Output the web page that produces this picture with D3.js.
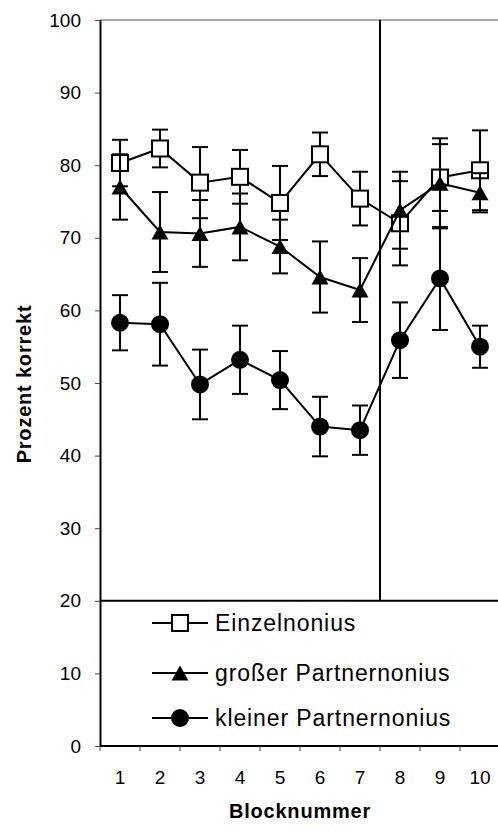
<!DOCTYPE html>
<html>
<head>
<meta charset="utf-8">
<script src="https://cdn.jsdelivr.net/npm/d3@7"></script>
<style>
  body { margin: 0; background: #fff; }
  svg { display: block; font-family: 'Liberation Sans', Arial, sans-serif; }
</style>
</head>
<body>
<div id="vis"></div>
<script>
const FRAME_WIDTH = 498;
const FRAME_HEIGHT = 832;

// data
const blocks = [1, 2, 3, 4, 5, 6, 7, 8, 9, 10];
const einzel = [80.3, 82.3, 77.6, 78.4, 74.8, 81.5, 75.4, 72.0, 78.3, 79.3];
const einzelErr = [3.2, 2.6, 4.9, 3.7, 5.1, 3.0, 3.7, 5.8, 4.6, 5.5];
const gross = [77.0, 70.8, 70.6, 71.5, 68.8, 64.6, 62.8, 73.8, 77.5, 76.2];
const grossErr = [4.5, 5.5, 4.6, 4.6, 3.7, 4.9, 4.4, 5.3, 6.2, 2.7];
const klein = [58.3, 58.1, 49.8, 53.2, 50.4, 44.0, 43.5, 55.9, 64.4, 55.0];
const kleinErr = [3.8, 5.7, 4.8, 4.7, 4.0, 4.1, 3.4, 5.2, 7.1, 2.9];
const seriesNames = ['Einzelnonius', 'großer Partnernonius', 'kleiner Partnernonius'];
const yTicks = [0, 10, 20, 30, 40, 50, 60, 70, 80, 90, 100];

const FRAME = d3.select('#vis')
  .append('svg')
  .attr('width', FRAME_WIDTH)
  .attr('height', FRAME_HEIGHT);

const X_SCALE = d3.scaleBand()
  .domain(blocks)
  .range([100, 500])
  .padding(0);

const Y_SCALE = d3.scaleLinear()
  .domain([0, 100])
  .range([746, 20]);

const cx = (d) => X_SCALE(d) + X_SCALE.bandwidth() / 2;

// top border and separating lines
FRAME.append('line')
  .attr('x1', 100).attr('x2', FRAME_WIDTH)
  .attr('y1', Y_SCALE(100)).attr('y2', Y_SCALE(100))
  .attr('stroke', '#555').attr('stroke-width', 1);

FRAME.append('line')
  .attr('x1', 100).attr('x2', FRAME_WIDTH)
  .attr('y1', Y_SCALE(20)).attr('y2', Y_SCALE(20))
  .attr('stroke', '#000').attr('stroke-width', 2);

// vertical split between block 7 and 8
FRAME.append('line')
  .attr('x1', X_SCALE(8)).attr('x2', X_SCALE(8))
  .attr('y1', Y_SCALE(100)).attr('y2', Y_SCALE(20))
  .attr('stroke', '#000').attr('stroke-width', 2);

// y axis
const yAxis = FRAME.append('g')
  .attr('transform', 'translate(100,0)')
  .call(d3.axisLeft(Y_SCALE).tickValues(yTicks).tickSize(5).tickSizeOuter(0).tickPadding(14));
yAxis.select('.domain').attr('stroke-width', 2);
yAxis.selectAll('.tick line').attr('stroke', '#444');
yAxis.selectAll('text').attr('font-size', '19px').attr('fill', '#000')
  .attr('font-family', "'Liberation Sans', Arial, sans-serif");

// x axis: labels in bands, ticks on band edges
const xAxis = FRAME.append('g')
  .attr('transform', 'translate(0,746)')
  .call(d3.axisBottom(X_SCALE).tickSize(0).tickPadding(25));
xAxis.select('.domain').remove();
xAxis.selectAll('text').attr('font-size', '19px').attr('fill', '#000')
  .attr('font-family', "'Liberation Sans', Arial, sans-serif");

FRAME.append('line')
  .attr('x1', 100).attr('x2', FRAME_WIDTH)
  .attr('y1', 746).attr('y2', 746)
  .attr('stroke', '#000').attr('stroke-width', 2);

FRAME.selectAll('.xtick')
  .data(blocks.concat([11]))
  .enter()
  .append('line')
  .attr('class', 'xtick')
  .attr('x1', (d) => (d <= 10 ? X_SCALE(d) : X_SCALE(10) + X_SCALE.bandwidth()))
  .attr('x2', (d) => (d <= 10 ? X_SCALE(d) : X_SCALE(10) + X_SCALE.bandwidth()))
  .attr('y1', 746).attr('y2', 751)
  .attr('stroke', '#444').attr('stroke-width', 1);

// axis titles
FRAME.append('text')
  .attr('x', 300).attr('y', 818)
  .attr('text-anchor', 'middle')
  .attr('font-size', '20px').attr('font-weight', 'bold')
  .attr('letter-spacing', '0.8px')
  .text('Blocknummer');

FRAME.append('text')
  .attr('transform', 'translate(31,384) rotate(-90)')
  .attr('text-anchor', 'middle')
  .attr('font-size', '20px').attr('font-weight', 'bold')
  .attr('letter-spacing', '0.8px')
  .text('Prozent korrekt');

// markers
const TRI = 'M0,-7.5L8.5,7.5L-8.5,7.5Z';
function drawMarker(g, type) {
  if (type === 'square') {
    g.append('rect').attr('x', -8).attr('y', -8).attr('width', 16).attr('height', 16)
      .attr('fill', '#fff').attr('stroke', '#000').attr('stroke-width', 2);
  } else if (type === 'triangle') {
    g.append('path').attr('d', TRI).attr('fill', '#000');
  } else {
    g.append('circle').attr('r', 9).attr('fill', '#000');
  }
}

const series = [
  { name: seriesNames[0], values: einzel, errs: einzelErr, marker: 'square' },
  { name: seriesNames[1], values: gross, errs: grossErr, marker: 'triangle' },
  { name: seriesNames[2], values: klein, errs: kleinErr, marker: 'circle' },
];

const line = d3.line()
  .x((d) => cx(d.block))
  .y((d) => Y_SCALE(d.value));

series.forEach((s) => {
  const pts = blocks.map((b, i) => ({ block: b, value: s.values[i], err: s.errs[i] }));
  const g = FRAME.append('g');

  // error bars
  pts.forEach((p) => {
    const top = Y_SCALE(p.value + p.err);
    const bot = Y_SCALE(p.value - p.err);
    const x = cx(p.block);
    g.append('line').attr('x1', x).attr('x2', x).attr('y1', top).attr('y2', bot)
      .attr('stroke', '#000').attr('stroke-width', 2);
    [top, bot].forEach((yy) => {
      g.append('line').attr('x1', x - 8).attr('x2', x + 8).attr('y1', yy).attr('y2', yy)
        .attr('stroke', '#000').attr('stroke-width', 2);
    });
  });

  g.append('path')
    .datum(pts)
    .attr('d', line)
    .attr('fill', 'none')
    .attr('stroke', '#000')
    .attr('stroke-width', 2);

  pts.forEach((p) => {
    const m = g.append('g').attr('transform', 'translate(' + cx(p.block) + ',' + Y_SCALE(p.value) + ')');
    drawMarker(m, s.marker);
  });
});

// legend
const legendY = [623, 673, 718];
series.forEach((s, i) => {
  const lg = FRAME.append('g').attr('transform', 'translate(152,' + legendY[i] + ')');
  lg.append('line').attr('x1', 0).attr('x2', 56).attr('y1', 0).attr('y2', 0)
    .attr('stroke', '#000').attr('stroke-width', 2);
  const m = lg.append('g').attr('transform', 'translate(28,0)');
  drawMarker(m, s.marker);
  lg.append('text')
    .attr('x', 63).attr('y', 0)
    .attr('dy', '0.35em')
    .attr('font-size', '23px')
    .attr('letter-spacing', '0.9px')
    .text(s.name);
});
</script>
</body>
</html>
